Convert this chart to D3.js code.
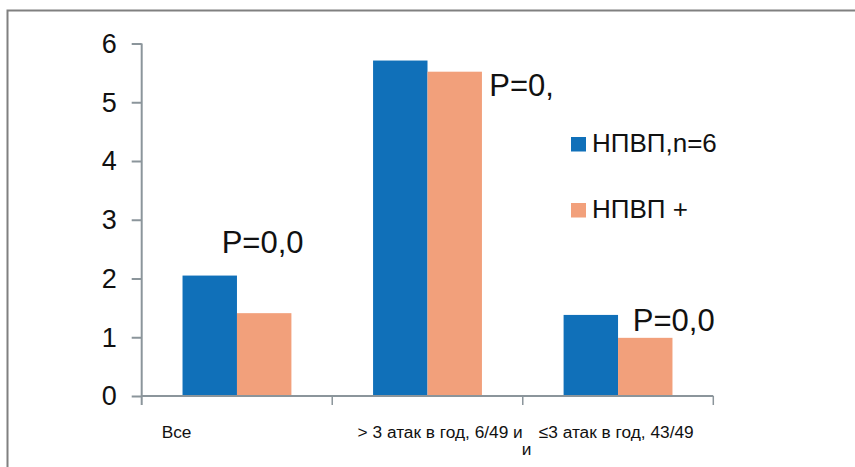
<!DOCTYPE html>
<html>
<head>
<meta charset="utf-8">
<script src="https://cdn.jsdelivr.net/npm/d3@7"></script>
<style>
  body { margin: 0; background: #fff; }
  svg { display: block; font-family: "Liberation Sans", Arial, sans-serif; }
</style>
</head>
<body>
<div class="chart"></div>
<script>
// data
let categories = ['Все', '> 3 атак в год, 6/49 и', '≤3 атак в год, 43/49'];
let series = ['НПВП,n=6', 'НПВП +'];
let seriesA = [2.05, 5.71, 1.38];
let seriesB = [1.41, 5.52, 0.99];
let pLabels = ['P=0,0', 'P=0,', 'P=0,0'];
let yTicks = [0, 1, 2, 3, 4, 5, 6];
let colors = ['#1070b9', '#f2a07b'];

var width = 855, height = 467;
var axisColor = '#8b959b';

let svg = d3.select('.chart')
    .append('svg')
    .attr('width', width)
    .attr('height', height);

// outer frame (top + left only)
svg.append('path')
    .attr('d', 'M7.5,' + height + 'V10.5H' + width)
    .attr('fill', 'none')
    .attr('stroke', '#808080')
    .attr('stroke-width', 2);

let y = d3.scaleLinear()
    .domain([0, 6])
    .range([396, 43.5]);

let x = d3.scaleBand()
    .domain(categories)
    .range([141.7, 713.3]);

let x1 = d3.scaleBand()
    .domain(series)
    .range([0, x.bandwidth()])
    .paddingOuter(0.75);

// bars
categories.forEach((c, i) => {
    [seriesA[i], seriesB[i]].forEach((v, j) => {
        svg.append('rect')
            .attr('x', x(c) + x1(series[j]))
            .attr('y', y(v))
            .attr('width', x1.bandwidth())
            .attr('height', y(0) - y(v))
            .attr('fill', colors[j]);
    });
});

// y axis
let yAxis = svg.append('g')
    .attr('transform', 'translate(' + x.range()[0] + ',0)')
    .call(d3.axisLeft(y).tickValues(yTicks).tickFormat(d3.format('d'))
        .tickSize(10).tickSizeOuter(0).tickPadding(15));
yAxis.select('.domain').remove();
yAxis.selectAll('.tick line').attr('stroke', axisColor).attr('stroke-width', 2);
yAxis.selectAll('.tick text')
    .attr('font-size', 27)
    .attr('fill', '#111')
    .attr('dy', '0.33em')
    .style('font-family', '"Liberation Sans", Arial, sans-serif');

svg.append('line')
    .attr('x1', x.range()[0]).attr('x2', x.range()[0])
    .attr('y1', y(6)).attr('y2', y(0) + 9)
    .attr('stroke', axisColor).attr('stroke-width', 2);

// x axis baseline + category ticks
svg.append('line')
    .attr('x1', x.range()[0]).attr('x2', x.range()[1])
    .attr('y1', y(0)).attr('y2', y(0))
    .attr('stroke', axisColor).attr('stroke-width', 2);

let bounds = categories.map(c => x(c)).concat([x.range()[1]]);
bounds.slice(1).forEach(b => {
    svg.append('line')
        .attr('x1', b).attr('x2', b)
        .attr('y1', y(0)).attr('y2', y(0) + 9)
        .attr('stroke', axisColor).attr('stroke-width', 1.5);
});

// category labels (placed like the wrapped excel labels)
let catText = svg.append('g')
    .attr('font-size', 17.3)
    .attr('fill', '#111');
catText.append('text')
    .attr('x', x(categories[0]) + 20)
    .attr('y', 438)
    .text(categories[0]);
catText.append('text')
    .attr('x', x(categories[1]) + x.bandwidth())
    .attr('y', 438)
    .attr('text-anchor', 'end')
    .text(categories[1]);
catText.append('text')
    .attr('x', x(categories[1]) + x.bandwidth() - 1)
    .attr('y', 455)
    .text('и');
catText.append('text')
    .attr('x', x(categories[2]) + 16)
    .attr('y', 438)
    .text(categories[2]);

// p-value labels
let pOffsets = [[80, 253], [157, 96], [110, 331]];
pLabels.forEach((p, i) => {
    svg.append('text')
        .attr('x', x(categories[i]) + pOffsets[i][0])
        .attr('y', pOffsets[i][1])
        .attr('font-size', 31)
        .attr('fill', '#111')
        .text(p);
});

// legend
let legend = svg.append('g')
    .attr('transform', 'translate(571,137)');
series.forEach((s, i) => {
    let g = legend.append('g')
        .attr('transform', 'translate(0,' + (i * 66) + ')');
    g.append('rect')
        .attr('width', 15)
        .attr('height', 14.5)
        .attr('fill', colors[i]);
    g.append('text')
        .attr('x', 21)
        .attr('y', 14.8)
        .attr('font-size', 26)
        .attr('fill', '#111')
        .text(s);
});
</script>
</body>
</html>
